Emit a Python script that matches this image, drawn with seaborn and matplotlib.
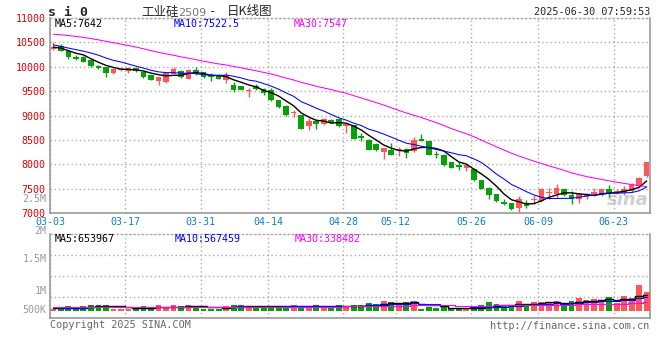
import numpy as np
import pandas as pd
import seaborn as sns

import matplotlib
matplotlib.use('Agg')
from matplotlib import pyplot as plt

# trading days 03-03 .. 06-27 (exchange holidays removed)
holidays = ['2025-04-04', '2025-05-01', '2025-05-02', '2025-05-05', '2025-06-02']
dates = pd.bdate_range('2025-03-03', '2025-06-27')
dates = dates[~dates.isin(pd.to_datetime(holidays))]
tick_labels = ['03-03', '03-17', '03-31', '04-14', '04-28', '05-12', '05-26', '06-09', '06-23']

open_ = [10359, 10434, 10332, 10209, 10209, 10141, 10018, 9991, 9882, 9937,
         9909, 9984, 9902, 9821, 9712, 9678, 9855, 9916, 9753, 9937,
         9889, 9814, 9834, 9732, 9630, 9596, 9507, 9596, 9541, 9514,
         9309, 9200, 9045, 9003, 8778, 8880, 8825, 8914, 8928, 8778,
         8798, 8587, 8505, 8423, 8246, 8287, 8295, 8321, 8266, 8525,
         8471, 8219, 8198, 8041, 7980, 7926, 7905, 7673, 7517, 7380,
         7224, 7196, 7108, 7210, 7265, 7244, 7401, 7380, 7483, 7360,
         7278, 7333, 7380, 7360, 7483, 7414, 7401, 7448, 7550, 7757]
close = [10414, 10332, 10196, 10168, 10107, 10018, 9971, 9882, 9950, 9943,
         9984, 9909, 9780, 9732, 9780, 9868, 9957, 9780, 9937, 9848,
         9780, 9780, 9753, 9821, 9528, 9528, 9510, 9548, 9459, 9309,
         9166, 9003, 9055, 8730, 8893, 8825, 8928, 8846, 8778, 8832,
         8525, 8532, 8300, 8287, 8328, 8198, 8305, 8232, 8505, 8484,
         8198, 8191, 7980, 7926, 7939, 7980, 7667, 7496, 7360, 7244,
         7189, 7073, 7278, 7142, 7278, 7483, 7428, 7517, 7360, 7278,
         7380, 7360, 7428, 7483, 7380, 7442, 7496, 7585, 7725, 8040]
high = [10502, 10461, 10345, 10243, 10220, 10162, 10030, 10000, 9984, 9957,
        9998, 9995, 9910, 9830, 9790, 9875, 9991, 9925, 9945, 9991,
        9900, 9862, 9845, 9889, 9684, 9605, 9562, 9650, 9562, 9562,
        9320, 9210, 9119, 9010, 8948, 8925, 8948, 8925, 8940, 8840,
        8805, 8641, 8515, 8430, 8335, 8441, 8355, 8330, 8553, 8628,
        8480, 8266, 8205, 8050, 8041, 7990, 7915, 7680, 7525, 7390,
        7278, 7205, 7346, 7257, 7367, 7517, 7517, 7585, 7490, 7448,
        7414, 7401, 7517, 7490, 7565, 7483, 7551, 7619, 7735, 8045]
low = [10346, 10320, 10162, 10141, 10095, 9991, 9960, 9780, 9848, 9923,
       9882, 9900, 9770, 9720, 9616, 9670, 9845, 9770, 9740, 9840,
       9770, 9698, 9745, 9664, 9480, 9520, 9371, 9514, 9425, 9300,
       9150, 8990, 8968, 8720, 8710, 8730, 8815, 8840, 8770, 8641,
       8515, 8470, 8290, 8280, 8110, 8190, 8164, 8130, 8255, 8470,
       8190, 8123, 7970, 7915, 7892, 7857, 7660, 7490, 7278, 7235,
       7155, 7065, 7005, 7108, 7176, 7235, 7278, 7312, 7350, 7189,
       7196, 7278, 7346, 7350, 7333, 7380, 7360, 7440, 7540, 7745]
# volume in thousands of lots
volume = [95, 95, 200, 95, 200, 245, 245, 245, 100, 100,
          100, 95, 200, 95, 245, 110, 235, 194, 235, 194,
          101, 101, 101, 194, 235, 235, 194, 194, 170, 194,
          194, 194, 235, 194, 194, 235, 194, 194, 235, 194,
          235, 235, 332, 275, 397, 356, 275, 356, 397, 101,
          154, 113, 154, 101, 101, 101, 101, 235, 356, 275,
          235, 194, 397, 275, 356, 356, 356, 397, 194, 397,
          518, 437, 478, 437, 559, 316, 599, 518, 1045, 761]
# closes / volumes before 03-03, estimated from where the MA lines start
pre_close = [10650, 10680, 10700, 10720, 10740, 10760, 10780, 10800, 10820, 10840,
             10850, 10860, 10850, 10840, 10820, 10800, 10780, 10770, 10750, 10720,
             10620, 10560, 10480, 10430, 10390, 10420, 10460, 10431, 10275]
pre_volume = [140, 160, 130, 170, 150, 145, 180, 135, 155, 160,
              140, 125, 165, 150, 170, 145, 130, 160, 155, 140,
              170, 150, 135, 160, 145, 155, 140, 130, 150]

ma_labels = ['MA5:7642', 'MA10:7522.5', 'MA30:7547']
vol_ma_labels = ['MA5:653967', 'MA10:567459', 'MA30:338482']
vol_axis_labels = ['2M', '1.5M', '1M', '500K']

RED = '#ff5757'
GREEN = '#08a008'
MA_COLORS = ['#000000', '#0000ff', '#ff00ff']
MA_WIDTHS = [1.0, 0.75, 0.75]
GRID = '#aaaaaa'
SPINE = '#999999'

sns.set_style('white')
plt.rcParams['font.family'] = ['DejaVu Sans Mono', 'Noto Sans CJK SC']

n = len(close)
idx = np.arange(n)
o = np.array(open_, float)
c = np.array(close, float)
up = c >= o
colors = np.where(up, RED, GREEN)
date_str = list(dates.strftime('%m-%d'))
tick_pos = np.array([date_str.index(t) for t in tick_labels])

full_close = pd.Series(pre_close + close, dtype=float)
full_vol = pd.Series(pre_volume + volume, dtype=float) * 1000
k = len(pre_close)
price_ma = [full_close.rolling(w).mean().to_numpy()[k:] for w in (5, 10, 30)]
vol_ma = [full_vol.rolling(w).mean().to_numpy()[k:] for w in (5, 10, 30)]

W, H = 660, 360
fig = plt.figure(figsize=(W / 100, H / 100), dpi=100)
ax = fig.add_axes([50 / W, 1 - 213 / H, 600 / W, 195 / H])
axv = fig.add_axes([50 / W, 1 - 318 / H, 600 / W, 84 / H])


def style_panel(a):
    for s in ('left', 'right', 'bottom'):
        a.spines[s].set_color(SPINE)
        a.spines[s].set_linewidth(1.2)
    a.spines['top'].set_color(GRID)
    a.spines['top'].set_linestyle((0, (1, 2)))
    a.spines['top'].set_linewidth(1)
    a.set_xlim(-0.45, n - 0.55)
    a.set_xticks(tick_pos - 0.4)
    a.grid(True, color=GRID, ls=(0, (1, 2)), lw=1)
    a.tick_params(length=0)
    a.set_axisbelow(True)


# ---- price panel ----
style_panel(ax)
ax.set_ylim(7000, 11000)
ax.set_yticks(np.arange(7000, 11001, 500))
ax.set_yticklabels([str(v) for v in range(7000, 11001, 500)], color='#e00000', fontsize=7.2)
ax.set_xticklabels(tick_labels, color='#0a7fd0', fontsize=7.2)
ax.tick_params(axis='y', pad=3)
ax.tick_params(axis='x', pad=3)

ax.text(0.998, 0.02, 'sina', transform=ax.transAxes, ha='right', va='bottom',
        fontsize=13, fontweight='bold', style='italic', color='#cfcfcf',
        family='DejaVu Sans', zorder=0)

ax.vlines(idx, low, high, color=colors, lw=1, zorder=2)
ax.bar(idx, np.maximum(np.abs(c - o), 18), bottom=np.minimum(o, c),
       width=0.75, color=colors, linewidth=0, zorder=3)
for ma, col, lw in zip(price_ma, MA_COLORS, MA_WIDTHS):
    sns.lineplot(x=idx, y=ma, ax=ax, color=col, lw=lw, zorder=4)

for lab, xp, col in zip(ma_labels, (55, 174, 294), MA_COLORS):
    fig.text(xp / W, 1 - 24 / H, lab, color=col, fontsize=7.2, va='center')

# ---- volume panel ----
style_panel(axv)
px = 40500.0
axv.set_ylim(-7 * px, 77 * px)
lo, hi = axv.get_ylim()
axv.set_yticks(lo + (hi - lo) * np.array([0.25, 0.5, 0.75]))
axv.set_yticklabels([])
axv.set_xticklabels([])
axv.bar(idx, np.array(volume) * 1000, width=0.78, color=colors, linewidth=0, zorder=3)
for ma, col, lw in zip(vol_ma, MA_COLORS, MA_WIDTHS):
    sns.lineplot(x=idx, y=ma, ax=axv, color=col, lw=lw, zorder=4,
                 drawstyle='steps-mid')

for lab, yp in zip(vol_axis_labels, (231, 259, 290.5, 310)):
    fig.text(46.5 / W, 1 - yp / H, lab, color='#999999', fontsize=7.2,
             ha='right', va='center')
fig.text(46.5 / W, 1 - 199 / H, '2.5M', color='#999999', fontsize=7.2,
         ha='right', va='center')
for lab, xp, col in zip(vol_ma_labels, (55, 175, 295), MA_COLORS):
    fig.text(xp / W, 1 - 238.5 / H, lab, color=col, fontsize=7.2, va='center')

# ---- header / footer ----
fig.text(48 / W, 1 - 12 / H, 's i 0', fontsize=9.5, fontweight='bold', va='center')
fig.text(141 / W, 1 - 12 / H, '工业硅', fontsize=9, va='center', family='Noto Sans CJK SC')
fig.text(178 / W, 1 - 12.5 / H, '2509', fontsize=8, va='center', color='#777777',
         family='DejaVu Sans')
fig.text(209 / W, 1 - 12 / H, '-', fontsize=9, va='center')
fig.text(227 / W, 1 - 12 / H, '日K线图', fontsize=9, va='center', family='Noto Sans CJK SC')
fig.text(650 / W, 1 - 12 / H, '2025-06-30 07:59:53', fontsize=7.3, ha='right', va='center')
fig.text(50 / W, 1 - 325 / H, 'Copyright 2025 SINA.COM', fontsize=7.3, color='#666666', va='center')
fig.text(649 / W, 1 - 326 / H, 'http://finance.sina.com.cn', fontsize=7.3, color='#666666',
         ha='right', va='center')

fig.savefig('out.png', dpi=100)
